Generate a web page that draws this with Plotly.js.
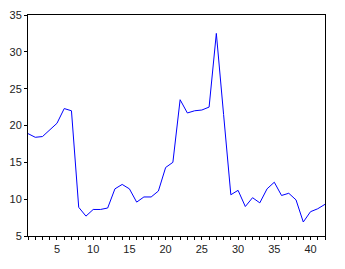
<!DOCTYPE html>
<html>
<head>
<meta charset="utf-8">
<script src="https://cdn.plot.ly/plotly-3.0.1.min.js"></script>
<style>html,body{margin:0;padding:0;background:#fff;}#chart{width:345px;height:269px;}</style>
</head>
<body>
<div id="chart"></div>
<script>
const xValues = [1,2,3,4,5,6,7,8,9,10,11,12,13,14,15,16,17,18,19,20,21,22,23,24,25,26,27,28,29,30,31,32,33,34,35,36,37,38,39,40,41,42];
const seriesValues = [18.9,18.4,18.5,19.4,20.3,22.3,22.0,8.9,7.7,8.6,8.6,8.8,11.4,12.0,11.4,9.6,10.3,10.3,11.1,14.3,15.0,23.5,21.7,22.0,22.1,22.5,32.5,21.5,10.6,11.2,9.0,10.2,9.5,11.4,12.3,10.5,10.8,9.9,6.9,8.3,8.7,9.3];
const yTickVals = [5,10,15,20,25,30,35];
const xTickVals = [5,10,15,20,25,30,35,40];

Plotly.newPlot('chart', [{
  x: xValues, y: seriesValues, type: 'scatter', mode: 'lines',
  line: {color: '#0000ff', width: 1}, hoverinfo: 'none'
}], {
  width: 345, height: 269,
  margin: {l: 28, r: 20, t: 15, b: 33},
  paper_bgcolor: '#ffffff', plot_bgcolor: '#ffffff',
  showlegend: false,
  font: {family: 'Liberation Sans, Arial, sans-serif', size: 11, color: '#222'},
  xaxis: {
    range: [1, 42], tickmode: 'array', tickvals: xTickVals, ticktext: xTickVals.map(String),
    ticks: 'outside', ticklen: 3, tickcolor: '#000', tickwidth: 1,
    minor: {dtick: 1, tick0: 0, ticks: 'outside', ticklen: 3, tickcolor: '#000', showgrid: false},
    showline: true, linecolor: '#000', linewidth: 1, mirror: true,
    showgrid: false, zeroline: false
  },
  yaxis: {
    range: [5, 35], tickmode: 'array', tickvals: yTickVals, ticktext: yTickVals.map(String),
    ticks: 'outside', ticklen: 3, tickcolor: '#000', tickwidth: 1,
    showline: true, linecolor: '#000', linewidth: 1, mirror: true,
    showgrid: false, zeroline: false
  }
}, {staticPlot: true, displayModeBar: false});
</script>
</body>
</html>
